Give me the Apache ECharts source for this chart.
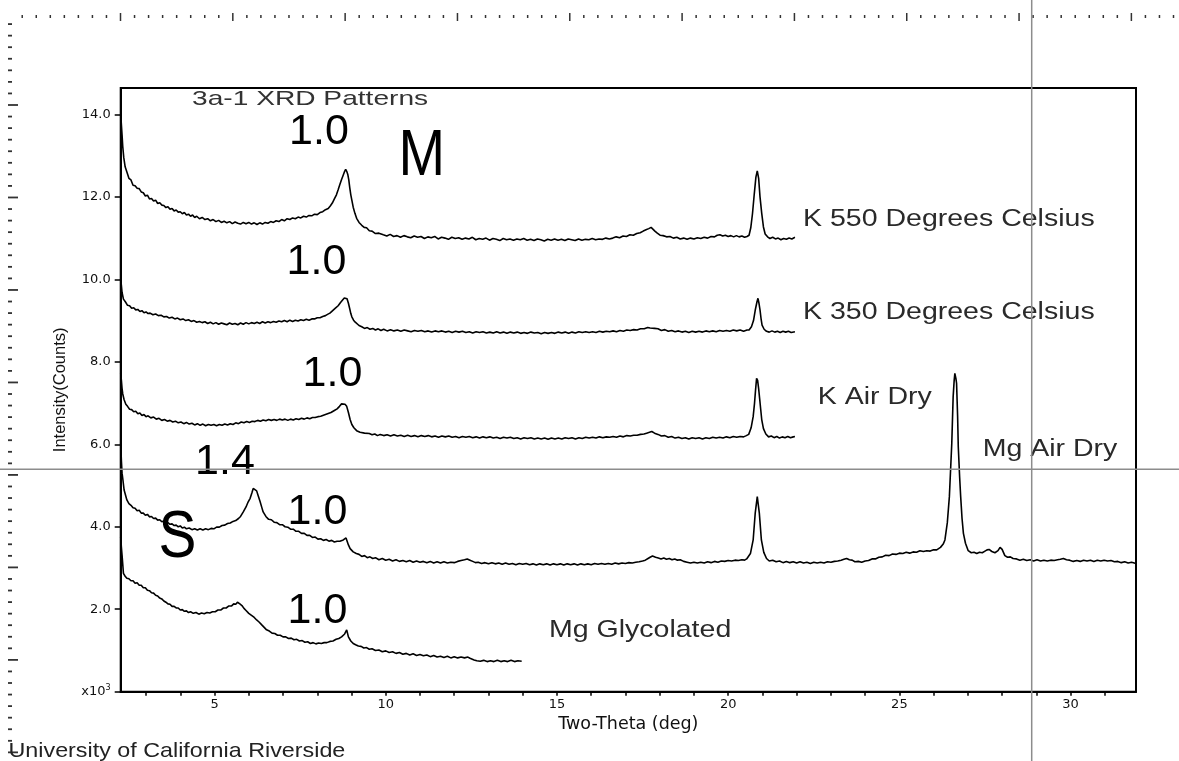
<!DOCTYPE html>
<html>
<head>
<meta charset="utf-8">
<script src="https://cdn.jsdelivr.net/npm/echarts@6.0.0/dist/echarts.min.js"></script>
<style>html,body{margin:0;padding:0;background:#fff}#c{width:1179px;height:761px}</style>
</head>
<body>
<div id="c"></div>
<script>
// ---------- data ----------
const xTickValues = [3,4,5,6,7,8,9,10,11,12,13,14,15,16,17,18,19,20,21,22,23,24,25,26,27,28,29,30,31];
const xLabelValues = [5,10,15,20,25,30];
const yTickValues = [0,2,4,6,8,10,12,14];
const seriesNames = ['K 550 Degrees Celsius','K 350 Degrees Celsius','K Air Dry','Mg Air Dry','Mg Glycolated'];
const peakLabels = ['1.0','1.0','1.0','1.4','1.0','1.0'];
const mineralLabels = ['M','S'];

const k550 = [[2.26,14.0],[2.28,13.96],[2.30,13.5],[2.32,13.22],[2.35,12.95],[2.39,12.73],[2.45,12.58],[2.5,12.45],[2.56,12.41],[2.62,12.28],[2.68,12.27],[2.74,12.21],[2.8,12.2],[2.86,12.12],[2.92,12.1],[2.98,12.02],[3.04,12.04],[3.1,11.95],[3.16,11.96],[3.22,11.9],[3.28,11.92],[3.34,11.84],[3.4,11.86],[3.46,11.8],[3.52,11.79],[3.58,11.74],[3.64,11.76],[3.7,11.7],[3.76,11.72],[3.82,11.66],[3.88,11.68],[3.94,11.63],[4.0,11.64],[4.06,11.59],[4.12,11.62],[4.18,11.56],[4.24,11.58],[4.3,11.53],[4.36,11.56],[4.42,11.5],[4.48,11.53],[4.56,11.47],[4.64,11.5],[4.72,11.45],[4.8,11.47],[4.88,11.42],[4.96,11.45],[5.04,11.4],[5.12,11.43],[5.2,11.38],[5.28,11.41],[5.36,11.37],[5.44,11.4],[5.52,11.35],[5.6,11.39],[5.68,11.36],[5.76,11.34],[5.84,11.38],[5.92,11.35],[6.0,11.38],[6.08,11.34],[6.16,11.37],[6.24,11.33],[6.32,11.37],[6.4,11.34],[6.48,11.38],[6.56,11.36],[6.64,11.4],[6.72,11.38],[6.8,11.42],[6.88,11.4],[6.96,11.45],[7.04,11.42],[7.12,11.47],[7.2,11.45],[7.28,11.49],[7.36,11.47],[7.44,11.51],[7.52,11.49],[7.6,11.53],[7.68,11.51],[7.76,11.55],[7.84,11.54],[7.92,11.58],[8.0,11.57],[8.08,11.62],[8.16,11.64],[8.24,11.69],[8.32,11.72],[8.38,11.78],[8.44,11.85],[8.5,11.95],[8.56,12.05],[8.61,12.17],[8.66,12.3],[8.71,12.42],[8.76,12.53],[8.80,12.62],[8.83,12.67],[8.86,12.62],[8.89,12.55],[8.92,12.42],[8.95,12.22],[8.98,12.05],[9.01,11.92],[9.05,11.75],[9.1,11.6],[9.15,11.48],[9.22,11.38],[9.3,11.31],[9.37,11.26],[9.44,11.25],[9.52,11.18],[9.6,11.17],[9.7,11.11],[9.8,11.12],[9.93,11.08],[10.03,11.05],[10.13,11.09],[10.23,11.04],[10.33,11.06],[10.43,11.02],[10.53,11.06],[10.63,11.03],[10.73,11.01],[10.83,11.05],[10.93,11.02],[11.03,11.04],[11.13,10.99],[11.23,11.03],[11.33,11.01],[11.43,11.04],[11.53,10.98],[11.63,11.02],[11.73,11.0],[11.83,10.97],[11.93,11.02],[12.03,10.99],[12.13,11.01],[12.23,10.97],[12.33,11.0],[12.43,10.98],[12.53,11.02],[12.63,10.96],[12.73,10.99],[12.83,10.97],[12.93,11.0],[13.03,10.95],[13.13,10.99],[13.23,10.97],[13.33,10.94],[13.43,10.99],[13.53,10.96],[13.63,10.98],[13.73,10.95],[13.83,10.98],[13.93,10.96],[14.03,10.99],[14.13,10.95],[14.23,10.97],[14.33,10.94],[14.43,10.98],[14.53,10.96],[14.63,10.93],[14.73,10.97],[14.83,10.95],[14.93,10.98],[15.03,10.95],[15.13,10.97],[15.23,10.94],[15.33,10.98],[15.43,10.96],[15.53,10.94],[15.63,10.98],[15.73,10.95],[15.83,10.97],[15.93,10.96],[16.03,10.99],[16.13,10.96],[16.23,10.98],[16.33,10.97],[16.43,11.0],[16.53,10.98],[16.63,11.0],[16.73,11.03],[16.83,11.01],[16.93,11.05],[17.03,11.04],[17.13,11.08],[17.23,11.07],[17.33,11.11],[17.43,11.13],[17.52,11.17],[17.6,11.2],[17.68,11.23],[17.75,11.26],[17.8,11.24],[17.86,11.17],[17.93,11.12],[18.01,11.07],[18.1,11.06],[18.2,11.03],[18.3,11.04],[18.4,11.0],[18.5,11.02],[18.6,10.98],[18.7,11.0],[18.8,10.97],[18.9,11.0],[19.0,10.98],[19.1,11.01],[19.2,10.99],[19.3,11.02],[19.4,11.0],[19.5,11.04],[19.6,11.03],[19.68,11.07],[19.76,11.08],[19.84,11.05],[19.92,11.07],[20.0,11.04],[20.08,11.06],[20.16,11.03],[20.24,11.06],[20.32,11.03],[20.4,11.05],[20.48,11.02],[20.55,11.04],[20.61,11.07],[20.66,11.25],[20.71,11.59],[20.76,12.05],[20.81,12.48],[20.85,12.63],[20.89,12.45],[20.93,12.0],[20.98,11.6],[21.03,11.27],[21.08,11.1],[21.15,11.03],[21.22,10.99],[21.3,11.02],[21.38,10.98],[21.46,11.0],[21.54,10.96],[21.62,10.99],[21.7,10.97],[21.78,11.0],[21.86,10.98],[21.95,11.02]];

const k350 = [[2.26,10.0],[2.28,9.85],[2.30,9.68],[2.34,9.52],[2.4,9.45],[2.46,9.37],[2.52,9.36],[2.58,9.3],[2.64,9.31],[2.7,9.26],[2.76,9.27],[2.82,9.22],[2.88,9.24],[2.94,9.19],[3.0,9.21],[3.06,9.17],[3.12,9.18],[3.2,9.14],[3.28,9.16],[3.36,9.12],[3.44,9.13],[3.52,9.09],[3.6,9.1],[3.68,9.06],[3.76,9.08],[3.84,9.04],[3.92,9.06],[4.0,9.02],[4.08,9.04],[4.16,9.0],[4.24,9.02],[4.32,8.98],[4.4,9.0],[4.48,8.96],[4.56,8.98],[4.64,8.95],[4.72,8.97],[4.8,8.93],[4.88,8.96],[4.96,8.92],[5.04,8.95],[5.12,8.91],[5.2,8.94],[5.28,8.92],[5.36,8.9],[5.44,8.94],[5.52,8.91],[5.6,8.93],[5.68,8.9],[5.76,8.94],[5.84,8.91],[5.92,8.95],[6.0,8.92],[6.08,8.95],[6.16,8.93],[6.24,8.96],[6.32,8.93],[6.4,8.97],[6.48,8.94],[6.56,8.97],[6.64,8.95],[6.72,8.98],[6.8,8.96],[6.88,8.99],[6.96,8.97],[7.04,9.0],[7.12,8.97],[7.2,9.01],[7.28,8.98],[7.36,9.01],[7.44,8.99],[7.52,9.02],[7.6,9.0],[7.68,9.03],[7.76,9.01],[7.84,9.04],[7.92,9.04],[8.0,9.07],[8.08,9.07],[8.16,9.1],[8.24,9.12],[8.3,9.15],[8.37,9.18],[8.45,9.24],[8.53,9.3],[8.61,9.36],[8.68,9.44],[8.74,9.5],[8.79,9.55],[8.83,9.57],[8.87,9.53],[8.91,9.42],[8.95,9.28],[8.98,9.17],[9.01,9.09],[9.06,9.01],[9.11,8.96],[9.15,8.93],[9.22,8.88],[9.3,8.85],[9.38,8.81],[9.46,8.83],[9.54,8.79],[9.62,8.81],[9.7,8.77],[9.78,8.8],[9.86,8.76],[9.94,8.79],[10.04,8.75],[10.14,8.78],[10.24,8.75],[10.34,8.77],[10.44,8.74],[10.54,8.77],[10.64,8.75],[10.74,8.73],[10.84,8.76],[10.94,8.74],[11.04,8.76],[11.14,8.73],[11.24,8.75],[11.34,8.72],[11.44,8.75],[11.54,8.73],[11.64,8.75],[11.74,8.72],[11.84,8.74],[11.94,8.71],[12.04,8.74],[12.14,8.72],[12.24,8.74],[12.34,8.71],[12.44,8.73],[12.54,8.7],[12.64,8.73],[12.74,8.71],[12.84,8.73],[12.94,8.7],[13.04,8.72],[13.14,8.7],[13.24,8.73],[13.34,8.7],[13.44,8.72],[13.54,8.69],[13.64,8.72],[13.74,8.7],[13.84,8.72],[13.94,8.69],[14.04,8.71],[14.14,8.69],[14.24,8.72],[14.34,8.7],[14.44,8.71],[14.54,8.68],[14.64,8.71],[14.74,8.69],[14.84,8.71],[14.94,8.69],[15.04,8.72],[15.14,8.7],[15.24,8.72],[15.34,8.69],[15.44,8.72],[15.54,8.7],[15.64,8.73],[15.74,8.71],[15.84,8.73],[15.94,8.71],[16.04,8.73],[16.14,8.71],[16.24,8.74],[16.34,8.72],[16.44,8.74],[16.54,8.73],[16.64,8.75],[16.74,8.73],[16.84,8.76],[16.94,8.74],[17.04,8.77],[17.14,8.76],[17.24,8.78],[17.34,8.77],[17.44,8.8],[17.55,8.8],[17.65,8.83],[17.72,8.82],[17.77,8.85],[17.85,8.81],[17.95,8.8],[18.05,8.76],[18.15,8.78],[18.25,8.74],[18.35,8.76],[18.45,8.73],[18.55,8.75],[18.65,8.72],[18.75,8.74],[18.85,8.71],[18.95,8.74],[19.05,8.72],[19.15,8.74],[19.25,8.72],[19.35,8.75],[19.45,8.73],[19.55,8.75],[19.65,8.73],[19.75,8.76],[19.85,8.74],[19.95,8.76],[20.05,8.74],[20.15,8.77],[20.25,8.75],[20.35,8.77],[20.45,8.74],[20.55,8.77],[20.61,8.77],[20.68,8.85],[20.74,9.0],[20.79,9.25],[20.84,9.45],[20.87,9.54],[20.9,9.42],[20.93,9.26],[20.96,9.05],[20.99,8.89],[21.05,8.79],[21.12,8.74],[21.2,8.72],[21.28,8.75],[21.36,8.72],[21.44,8.74],[21.52,8.71],[21.6,8.74],[21.68,8.72],[21.76,8.74],[21.84,8.71],[21.95,8.73]];

const kAirDry = [[2.26,7.72],[2.28,7.55],[2.3,7.35],[2.32,7.22],[2.36,7.08],[2.41,6.97],[2.46,6.92],[2.52,6.85],[2.58,6.84],[2.64,6.79],[2.7,6.8],[2.76,6.74],[2.82,6.76],[2.88,6.7],[2.94,6.72],[3.0,6.67],[3.06,6.69],[3.14,6.64],[3.22,6.66],[3.3,6.61],[3.38,6.63],[3.46,6.58],[3.54,6.6],[3.62,6.56],[3.7,6.58],[3.78,6.54],[3.86,6.56],[3.94,6.52],[4.02,6.54],[4.1,6.5],[4.18,6.53],[4.26,6.49],[4.34,6.51],[4.42,6.47],[4.5,6.5],[4.58,6.46],[4.66,6.49],[4.74,6.45],[4.82,6.48],[4.9,6.46],[4.98,6.48],[5.06,6.45],[5.14,6.48],[5.22,6.46],[5.3,6.49],[5.38,6.47],[5.46,6.5],[5.54,6.48],[5.62,6.52],[5.7,6.5],[5.78,6.54],[5.86,6.52],[5.94,6.55],[6.02,6.53],[6.1,6.56],[6.18,6.55],[6.26,6.58],[6.34,6.56],[6.42,6.59],[6.5,6.57],[6.58,6.6],[6.66,6.58],[6.74,6.6],[6.82,6.58],[6.9,6.61],[6.98,6.59],[7.06,6.61],[7.14,6.58],[7.22,6.61],[7.3,6.59],[7.38,6.62],[7.46,6.6],[7.54,6.63],[7.62,6.61],[7.7,6.64],[7.78,6.62],[7.86,6.65],[7.94,6.65],[8.02,6.67],[8.1,6.68],[8.2,6.71],[8.3,6.74],[8.4,6.77],[8.5,6.82],[8.58,6.86],[8.65,6.92],[8.71,6.98],[8.76,7.0],[8.81,6.97],[8.86,6.92],[8.91,6.77],[8.96,6.6],[9.01,6.48],[9.07,6.4],[9.15,6.33],[9.25,6.29],[9.38,6.27],[9.52,6.26],[9.6,6.23],[9.68,6.25],[9.76,6.21],[9.84,6.24],[9.94,6.21],[10.04,6.23],[10.14,6.2],[10.24,6.23],[10.34,6.2],[10.44,6.22],[10.54,6.19],[10.64,6.22],[10.74,6.19],[10.84,6.21],[10.94,6.18],[11.04,6.21],[11.14,6.19],[11.24,6.21],[11.34,6.18],[11.44,6.2],[11.54,6.17],[11.64,6.2],[11.74,6.18],[11.84,6.2],[11.94,6.17],[12.04,6.19],[12.14,6.16],[12.24,6.19],[12.34,6.17],[12.44,6.19],[12.54,6.16],[12.64,6.18],[12.74,6.15],[12.84,6.18],[12.94,6.16],[13.04,6.18],[13.14,6.15],[13.24,6.17],[13.34,6.14],[13.44,6.17],[13.54,6.15],[13.64,6.17],[13.74,6.14],[13.84,6.16],[13.94,6.13],[14.04,6.16],[14.14,6.14],[14.24,6.16],[14.34,6.13],[14.44,6.15],[14.54,6.13],[14.64,6.15],[14.74,6.12],[14.84,6.15],[14.94,6.13],[15.04,6.15],[15.14,6.13],[15.24,6.16],[15.34,6.14],[15.44,6.16],[15.54,6.13],[15.64,6.16],[15.74,6.14],[15.84,6.17],[15.94,6.15],[16.04,6.17],[16.14,6.15],[16.24,6.18],[16.34,6.16],[16.44,6.18],[16.54,6.17],[16.64,6.19],[16.74,6.17],[16.84,6.2],[16.94,6.18],[17.04,6.21],[17.14,6.2],[17.24,6.22],[17.34,6.22],[17.44,6.24],[17.54,6.25],[17.62,6.27],[17.7,6.29],[17.77,6.31],[17.85,6.27],[17.95,6.24],[18.05,6.2],[18.15,6.21],[18.25,6.17],[18.35,6.19],[18.45,6.15],[18.55,6.17],[18.65,6.14],[18.75,6.16],[18.85,6.13],[18.95,6.16],[19.05,6.14],[19.15,6.16],[19.25,6.13],[19.35,6.16],[19.45,6.14],[19.55,6.17],[19.65,6.15],[19.75,6.17],[19.85,6.15],[19.95,6.18],[20.05,6.16],[20.15,6.19],[20.25,6.17],[20.35,6.19],[20.45,6.18],[20.53,6.21],[20.6,6.24],[20.67,6.4],[20.73,6.67],[20.77,7.0],[20.8,7.32],[20.83,7.6],[20.86,7.55],[20.89,7.35],[20.92,7.1],[20.95,6.85],[20.98,6.6],[21.03,6.38],[21.1,6.25],[21.18,6.18],[21.26,6.2],[21.34,6.16],[21.42,6.19],[21.5,6.15],[21.58,6.18],[21.66,6.16],[21.74,6.19],[21.82,6.16],[21.9,6.18],[21.95,6.19]];

const mgAirDry = [[2.26,6.02],[2.28,5.6],[2.3,5.3],[2.32,5.17],[2.36,4.89],[2.44,4.65],[2.5,4.56],[2.56,4.52],[2.62,4.46],[2.68,4.45],[2.74,4.39],[2.8,4.4],[2.86,4.33],[2.92,4.33],[2.98,4.28],[3.04,4.3],[3.1,4.24],[3.16,4.25],[3.22,4.2],[3.28,4.21],[3.34,4.16],[3.4,4.17],[3.46,4.12],[3.52,4.14],[3.58,4.09],[3.64,4.1],[3.7,4.06],[3.76,4.07],[3.82,4.03],[3.88,4.04],[3.94,4.0],[4.0,4.02],[4.06,3.97],[4.12,3.99],[4.18,3.95],[4.26,3.97],[4.34,3.93],[4.42,3.95],[4.5,3.92],[4.58,3.95],[4.66,3.92],[4.74,3.95],[4.82,3.93],[4.9,3.96],[4.98,3.95],[5.06,3.99],[5.14,3.99],[5.22,4.03],[5.3,4.04],[5.38,4.08],[5.46,4.09],[5.54,4.13],[5.62,4.15],[5.7,4.2],[5.76,4.25],[5.84,4.36],[5.92,4.48],[5.98,4.6],[6.04,4.69],[6.09,4.82],[6.13,4.93],[6.18,4.92],[6.23,4.87],[6.28,4.74],[6.33,4.61],[6.38,4.47],[6.42,4.36],[6.5,4.25],[6.58,4.18],[6.66,4.17],[6.74,4.11],[6.82,4.1],[6.9,4.05],[6.98,4.05],[7.06,4.0],[7.14,3.99],[7.22,3.94],[7.3,3.94],[7.38,3.89],[7.46,3.89],[7.54,3.84],[7.62,3.84],[7.7,3.79],[7.78,3.79],[7.86,3.74],[7.94,3.75],[8.02,3.7],[8.1,3.71],[8.18,3.67],[8.26,3.69],[8.34,3.65],[8.42,3.67],[8.5,3.63],[8.58,3.65],[8.66,3.65],[8.76,3.68],[8.84,3.73],[8.88,3.7],[8.91,3.56],[8.96,3.47],[9.05,3.39],[9.14,3.35],[9.22,3.33],[9.3,3.28],[9.38,3.3],[9.46,3.25],[9.54,3.27],[9.62,3.23],[9.7,3.25],[9.8,3.2],[9.9,3.23],[10.0,3.19],[10.1,3.21],[10.2,3.17],[10.3,3.2],[10.4,3.16],[10.5,3.18],[10.6,3.15],[10.7,3.18],[10.8,3.14],[10.9,3.17],[11.0,3.14],[11.1,3.16],[11.2,3.13],[11.3,3.16],[11.4,3.12],[11.5,3.15],[11.6,3.12],[11.7,3.15],[11.8,3.12],[11.9,3.14],[12.0,3.13],[12.1,3.16],[12.2,3.18],[12.3,3.2],[12.38,3.22],[12.46,3.19],[12.54,3.16],[12.62,3.13],[12.7,3.14],[12.8,3.11],[12.9,3.13],[13.0,3.1],[13.1,3.13],[13.2,3.1],[13.3,3.12],[13.4,3.09],[13.5,3.12],[13.6,3.09],[13.7,3.11],[13.8,3.08],[13.9,3.11],[14.0,3.09],[14.1,3.11],[14.2,3.08],[14.3,3.1],[14.4,3.07],[14.5,3.1],[14.6,3.08],[14.7,3.1],[14.8,3.07],[14.9,3.1],[15.0,3.08],[15.1,3.1],[15.2,3.07],[15.3,3.1],[15.4,3.08],[15.5,3.1],[15.6,3.07],[15.7,3.1],[15.8,3.08],[15.9,3.1],[16.0,3.08],[16.1,3.11],[16.2,3.09],[16.3,3.11],[16.4,3.09],[16.5,3.11],[16.6,3.09],[16.7,3.12],[16.8,3.1],[16.9,3.12],[17.0,3.11],[17.1,3.13],[17.2,3.12],[17.3,3.14],[17.4,3.15],[17.5,3.17],[17.58,3.19],[17.66,3.23],[17.72,3.26],[17.79,3.29],[17.88,3.26],[17.96,3.24],[18.04,3.22],[18.12,3.24],[18.2,3.21],[18.28,3.23],[18.36,3.2],[18.44,3.22],[18.52,3.19],[18.6,3.2],[18.7,3.16],[18.8,3.14],[18.9,3.12],[19.0,3.14],[19.1,3.12],[19.2,3.14],[19.3,3.12],[19.4,3.15],[19.5,3.13],[19.6,3.16],[19.7,3.14],[19.8,3.17],[19.9,3.16],[20.0,3.18],[20.1,3.17],[20.2,3.19],[20.3,3.18],[20.4,3.2],[20.48,3.19],[20.54,3.22],[20.65,3.35],[20.73,3.68],[20.79,4.33],[20.85,4.73],[20.91,4.33],[20.97,3.68],[21.04,3.38],[21.12,3.23],[21.2,3.17],[21.3,3.19],[21.4,3.15],[21.5,3.17],[21.6,3.13],[21.7,3.16],[21.8,3.13],[21.9,3.15],[22.0,3.12],[22.1,3.15],[22.2,3.12],[22.3,3.14],[22.4,3.11],[22.5,3.14],[22.6,3.12],[22.7,3.14],[22.8,3.12],[22.9,3.15],[23.0,3.14],[23.1,3.16],[23.2,3.17],[23.3,3.19],[23.38,3.21],[23.46,3.23],[23.54,3.2],[23.62,3.19],[23.7,3.15],[23.8,3.16],[23.9,3.14],[24.0,3.17],[24.1,3.18],[24.2,3.22],[24.3,3.22],[24.4,3.26],[24.5,3.27],[24.6,3.31],[24.7,3.3],[24.8,3.34],[24.9,3.33],[25.0,3.36],[25.1,3.35],[25.2,3.38],[25.3,3.36],[25.4,3.39],[25.5,3.38],[25.6,3.42],[25.7,3.4],[25.8,3.42],[25.9,3.41],[26.0,3.44],[26.09,3.44],[26.2,3.5],[26.28,3.58],[26.33,3.68],[26.4,4.1],[26.46,4.73],[26.53,6.02],[26.57,7.15],[26.6,7.55],[26.62,7.72],[26.65,7.6],[26.67,7.48],[26.7,6.7],[26.72,5.94],[26.76,5.2],[26.79,4.73],[26.83,4.2],[26.87,3.84],[26.93,3.6],[27.01,3.42],[27.1,3.37],[27.18,3.38],[27.26,3.35],[27.34,3.38],[27.42,3.37],[27.5,3.41],[27.56,3.44],[27.62,3.45],[27.7,3.4],[27.79,3.37],[27.88,3.42],[27.94,3.5],[28.0,3.45],[28.08,3.3],[28.16,3.26],[28.24,3.27],[28.32,3.23],[28.42,3.22],[28.52,3.19],[28.62,3.21],[28.72,3.18],[28.82,3.2],[28.92,3.17],[29.02,3.2],[29.12,3.17],[29.22,3.19],[29.32,3.17],[29.42,3.19],[29.52,3.18],[29.62,3.2],[29.7,3.21],[29.79,3.23],[29.88,3.2],[29.97,3.19],[30.08,3.16],[30.18,3.18],[30.28,3.16],[30.38,3.19],[30.48,3.17],[30.58,3.19],[30.68,3.16],[30.78,3.19],[30.88,3.17],[30.98,3.19],[31.08,3.17],[31.18,3.18],[31.28,3.15],[31.38,3.16],[31.48,3.13],[31.58,3.15],[31.68,3.12],[31.78,3.14],[31.91,3.11]];

const mgGlycolated = [[2.26,3.75],[2.28,3.5],[2.3,3.31],[2.34,2.87],[2.39,2.8],[2.44,2.75],[2.5,2.74],[2.56,2.69],[2.62,2.69],[2.68,2.63],[2.74,2.64],[2.8,2.58],[2.86,2.58],[2.92,2.52],[2.98,2.52],[3.04,2.46],[3.1,2.45],[3.16,2.4],[3.22,2.39],[3.28,2.34],[3.34,2.32],[3.4,2.27],[3.46,2.25],[3.52,2.2],[3.58,2.17],[3.64,2.13],[3.7,2.12],[3.76,2.07],[3.82,2.07],[3.88,2.03],[3.94,2.03],[4.0,1.98],[4.06,1.99],[4.12,1.95],[4.18,1.96],[4.24,1.92],[4.3,1.94],[4.38,1.9],[4.46,1.92],[4.54,1.88],[4.62,1.91],[4.7,1.89],[4.78,1.92],[4.86,1.91],[4.94,1.94],[5.02,1.94],[5.1,1.98],[5.18,1.98],[5.26,2.03],[5.34,2.03],[5.42,2.08],[5.5,2.08],[5.56,2.13],[5.62,2.12],[5.67,2.17],[5.74,2.13],[5.8,2.09],[5.86,2.02],[5.92,1.97],[6.0,1.9],[6.08,1.85],[6.16,1.8],[6.23,1.74],[6.3,1.69],[6.38,1.62],[6.45,1.56],[6.52,1.5],[6.6,1.47],[6.68,1.42],[6.76,1.41],[6.84,1.37],[6.92,1.37],[7.0,1.33],[7.08,1.33],[7.16,1.29],[7.24,1.3],[7.32,1.26],[7.4,1.27],[7.48,1.23],[7.56,1.24],[7.64,1.2],[7.72,1.21],[7.8,1.17],[7.88,1.19],[7.96,1.16],[8.04,1.18],[8.12,1.17],[8.2,1.19],[8.28,1.19],[8.37,1.22],[8.46,1.23],[8.55,1.27],[8.63,1.29],[8.71,1.33],[8.8,1.4],[8.86,1.5],[8.91,1.33],[8.98,1.23],[9.05,1.17],[9.12,1.14],[9.2,1.11],[9.28,1.1],[9.36,1.06],[9.44,1.07],[9.52,1.03],[9.6,1.04],[9.7,1.0],[9.8,1.01],[9.9,0.97],[10.0,0.99],[10.1,0.95],[10.2,0.97],[10.3,0.93],[10.4,0.95],[10.5,0.91],[10.6,0.93],[10.7,0.89],[10.8,0.92],[10.9,0.88],[11.0,0.9],[11.1,0.87],[11.2,0.89],[11.3,0.85],[11.4,0.88],[11.5,0.84],[11.6,0.86],[11.7,0.83],[11.8,0.86],[11.9,0.82],[12.0,0.85],[12.1,0.82],[12.2,0.84],[12.3,0.82],[12.4,0.84],[12.46,0.81],[12.58,0.77],[12.66,0.75],[12.76,0.74],[12.86,0.76],[12.96,0.73],[13.06,0.75],[13.16,0.73],[13.26,0.76],[13.36,0.73],[13.46,0.75],[13.56,0.73],[13.66,0.76],[13.76,0.73],[13.86,0.75],[13.97,0.74]];

const seriesData = [k550, k350, kAirDry, mgAirDry, mgGlycolated];

// ---------- decoration / annotations ----------
const graphics = [];
// top ruler
for (let k = -7; 120.5 + k * 14.04 <= 1179; k++) {
  const x = 120.5 + k * 14.04, major = (k % 8 === 0);
  graphics.push({type:'line', silent:true, z:5, shape:{x1:x, y1: major ? 13 : 15, x2:x, y2: major ? 21 : 18}, style:{stroke:'#333', lineWidth:1.5}});
}
// left ruler
for (let k = -7; 105 + k * 11.56 <= 761; k++) {
  const y = 105 + k * 11.56, major = (k % 8 === 0);
  graphics.push({type:'line', silent:true, z:5, shape:{x1:8, y1:y, x2: major ? 18 : 12, y2:y}, style:{stroke:'#333', lineWidth:1.8}});
}
function txt(text, x, y, size, opts) {
  opts = opts || {};
  graphics.push({
    type:'text', silent:true, z:50, x:x, y:y, scaleX: opts.sx || 1,
    style:{text:text, fill: opts.color || '#000', font: size + 'px "Liberation Sans", Arial, sans-serif',
      align: opts.align || 'left', textAlign: opts.align || 'left', verticalAlign:'middle', textVerticalAlign:'middle'}
  });
}
// title
txt('3a-1 XRD Patterns', 192, 99, 21, {sx:1.34, color:'#333'});
// series labels
txt(seriesNames[0], 803, 219, 24.8, {sx:1.15, color:'#2a2a2a'});
txt(seriesNames[1], 803, 312.5, 24.8, {sx:1.15, color:'#2a2a2a'});
txt(seriesNames[2], 817.7, 397.5, 24.8, {sx:1.15, color:'#2a2a2a'});
txt(seriesNames[3], 982.7, 449, 24.8, {sx:1.15, color:'#2a2a2a'});
txt(seriesNames[4], 549, 630, 24.8, {sx:1.15, color:'#2a2a2a'});
// d-spacing labels
txt(peakLabels[0], 319, 132, 43, {align:'center'});
txt(peakLabels[1], 316.5, 262, 43, {align:'center'});
txt(peakLabels[2], 332.5, 374, 43, {align:'center'});
txt(peakLabels[3], 225, 462, 43, {align:'center'});
txt(peakLabels[4], 317.5, 512.5, 43, {align:'center'});
txt(peakLabels[5], 317.5, 611, 43, {align:'center'});
txt(mineralLabels[0], 421.7, 157, 65, {align:'center', sx:0.86});
txt(mineralLabels[1], 177.5, 539, 66, {align:'center', sx:0.86});
// footer
txt('University of California Riverside', 8.5, 751.5, 21, {sx:1.11, color:'#222'});
// crosshair
graphics.push({type:'line', silent:true, z:100, shape:{x1:0, y1:469.3, x2:1179, y2:469.3}, style:{stroke:'#8c8c8c', lineWidth:1.5}});
graphics.push({type:'line', silent:true, z:100, shape:{x1:1031.7, y1:0, x2:1031.7, y2:761}, style:{stroke:'#8c8c8c', lineWidth:1.5}});

const chart = echarts.init(document.getElementById('c'), null, {renderer:'canvas'});
chart.setOption({
  animation:false,
  backgroundColor:'#fff',
  grid:{left:120.7, right:43, top:88, bottom:69.3, show:true, borderColor:'#000', borderWidth:2, backgroundColor:'transparent'},
  xAxis:{
    type:'value', min:2.26, max:31.91,
    axisLine:{show:true, onZero:false, lineStyle:{color:'#000', width:2}},
    axisTick:{show:true, customValues:xTickValues, length:4, lineStyle:{color:'#000', width:1.5}},
    axisLabel:{show:true, customValues:xLabelValues, margin:6, color:'#111', fontSize:13, fontFamily:'"DejaVu Sans", sans-serif'},
    splitLine:{show:false},
    name:'Two-Theta (deg)', nameLocation:'middle', nameGap:23,
    nameTextStyle:{color:'#111', fontSize:17.5, fontFamily:'"DejaVu Sans", sans-serif'}
  },
  yAxis:{
    type:'value', min:0, max:14.64,
    axisLine:{show:true, onZero:false, lineStyle:{color:'#000', width:2}},
    axisTick:{show:true, customValues:yTickValues, length:6, lineStyle:{color:'#000', width:1.5}},
    axisLabel:{show:true, customValues:yTickValues, margin:10, color:'#111', fontSize:13, fontFamily:'"DejaVu Sans", sans-serif',
      formatter:function(v){ return v === 0 ? 'x10{s|3}' : v.toFixed(1); },
      rich:{s:{fontSize:8, fontFamily:'"DejaVu Sans", sans-serif', color:'#111', verticalAlign:'top', padding:[0,0,8,0]}}},
    splitLine:{show:false},
    name:'Intensity(Counts)', nameLocation:'middle', nameGap:52, nameRotate:90,
    nameTextStyle:{color:'#111', fontSize:16.5, fontFamily:'"Liberation Sans", Arial, sans-serif'}
  },
  series: seriesData.map(function(d, i){
    return {type:'line', name:seriesNames[i], data:d, showSymbol:false, symbol:'none', silent:true,
      lineStyle:{color:'#000', width:1.6}, z:10};
  }),
  graphic: graphics
});
</script>
</body>
</html>
